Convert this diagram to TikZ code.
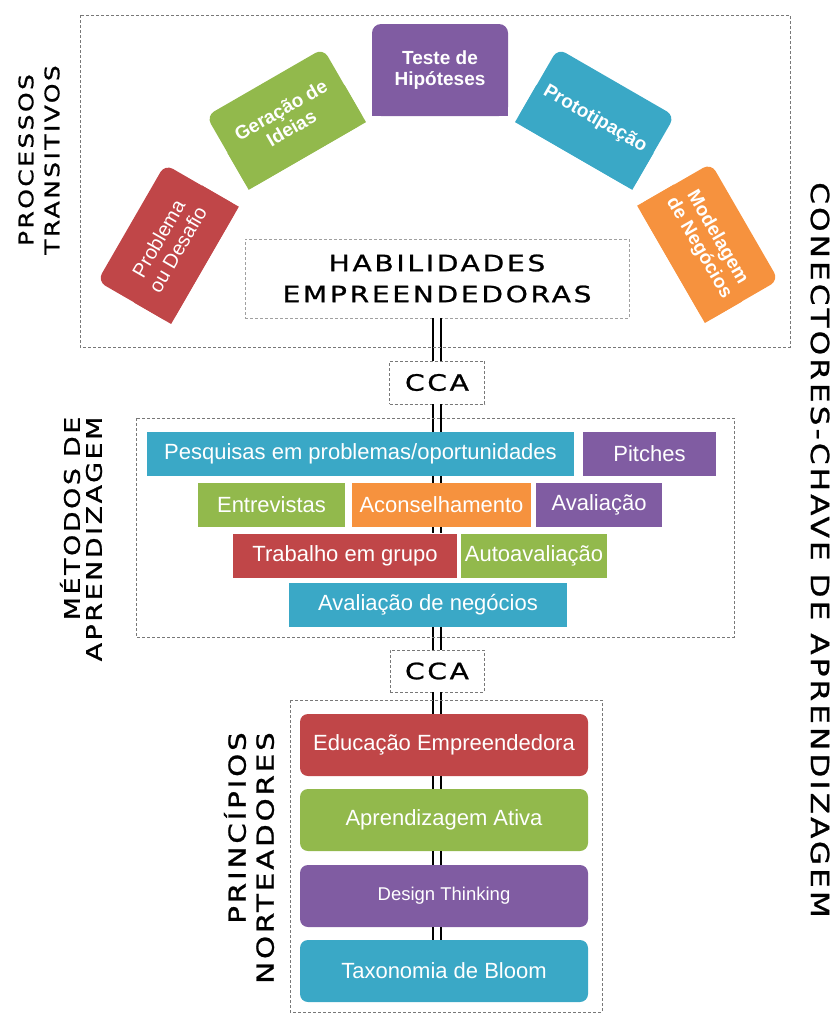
\documentclass[tikz,border=0pt]{standalone}
\usepackage{fontspec}
\setmainfont{Liberation Sans}
\newfontfamily\techfont[FakeStretch=1.25,LetterSpace=12,FakeBold=1]{DejaVu Sans}
\usetikzlibrary{backgrounds}
\definecolor{cred}{RGB}{192,70,72}
\definecolor{cgreen}{RGB}{146,185,76}
\definecolor{cpurple}{RGB}{128,92,162}
\definecolor{cblue}{RGB}{58,168,198}
\definecolor{corange}{RGB}{246,146,62}
\definecolor{dashgray}{RGB}{120,120,120}
\tikzset{
  frame/.style={draw=dashgray,dash pattern=on 3pt off 2pt,line width=0.8pt},
  tag/.style={frame,inner sep=0pt,align=center,font=\techfont\fontsize{22.5}{31}\selectfont},
  side/.style={align=#1,inner sep=0pt},
  link/.style={draw=black,line width=2.5pt,double=white,double distance=5.5pt},
  arcbox/.style={fill=#1,text=white,rounded corners=9pt,minimum width=135pt,minimum height=85pt,
    inner sep=0pt,align=center,font=\bfseries\fontsize{19}{21}\selectfont},
  meth/.style={fill=#1,text=white,inner sep=0pt,minimum height=44pt,font=\fontsize{22}{24}\selectfont},
  princ/.style={fill=#1,text=white,rounded corners=8pt,minimum width=288pt,minimum height=62pt,
    inner sep=0pt,font=\fontsize{22}{24}\selectfont}
}
\begin{document}
\begin{tikzpicture}[x=1pt,y=-1pt]
\useasboundingbox (0,0) rectangle (838,1020);

% processos transitivos
\node[arcbox=cred,rotate=60,font=\fontsize{20}{22}\selectfont] (prob) at (168,244) {Problema\\ou Desafio};
\node[arcbox=cgreen,rotate=30] (ideias) at (286,119) {Geração de\\Ideias};
\node[arcbox=cpurple,minimum width=136pt,minimum height=92pt] (teste) at (440,70) {Teste de\\Hipóteses};
\node[arcbox=cblue,rotate=-30] (proto) at (595,119) {Prototipação};
\node[arcbox=corange,rotate=-60] (model) at (708,243) {Modelagem\\de Negócios};
\begin{scope}[on background layer]
\foreach \n/\c in {prob/cred,ideias/cgreen,teste/cpurple,proto/cblue,model/corange}
  \fill[\c] (\n.west) -- (\n.south west) -- (\n.south east) -- (\n.east) -- cycle;
\end{scope}
\node[tag,draw=dashgray!70,minimum width=384pt,minimum height=79pt] (habil) at (437,278.5) {HABILIDADES\\EMPREENDEDORAS};
\node[tag,minimum width=95pt,minimum height=43pt] (cca1) at (437,382.5) {CCA};

% metodos de aprendizagem
\node[meth=cblue,minimum width=427pt] (pesq) at (360.5,454) {Pesquisas em problemas/oportunidades};
\node[meth=cpurple,minimum width=133pt] (pitch) at (649.5,454) {Pitches};
\node[meth=cgreen,minimum width=147pt] (entre) at (271.5,505) {Entrevistas};
\node[meth=corange,minimum width=179pt] (acons) at (441.5,505) {Aconselhamento};
\node[meth=cpurple,minimum width=126pt] (aval) at (599,505) {Avaliação};
\node[meth=cred,minimum width=224pt] (trab) at (345,555.5) {Trabalho em grupo};
\node[meth=cgreen,minimum width=146pt] (auto) at (534,555.5) {Autoavaliação};
\node[meth=cblue,minimum width=278pt] (neg) at (428,605) {Avaliação de negócios};
\node[tag,minimum width=94pt,minimum height=42pt] (cca2) at (437,671) {CCA};

% principios norteadores
\node[princ=cred] (edu) at (444,745) {Educação Empreendedora};
\node[princ=cgreen] (ativa) at (444,820) {Aprendizagem Ativa};
\node[princ=cpurple,font=\fontsize{18.5}{20}\selectfont] (design) at (444,896) {Design Thinking};
\node[princ=cblue] (bloom) at (444,971) {Taxonomia de Bloom};

% conectores
\draw[link] (habil.south) -- (cca1.north);
\draw[link] (cca1.south) -- (cca1.south |- pesq.north);
\draw[link] (cca1.south |- pesq.south) -- (cca1.south |- acons.north);
\draw[link] (cca1.south |- acons.south) -- (cca1.south |- trab.north);
\draw[link] (cca1.south |- neg.south) -- (cca2.north);
\draw[link] (cca2.south) -- (cca2.south |- edu.north);
\draw[link] (edu.south -| cca2.south) -- (ativa.north -| cca2.south);
\draw[link] (ativa.south -| cca2.south) -- (design.north -| cca2.south);
\draw[link] (design.south -| cca2.south) -- (bloom.north -| cca2.south);

% molduras
\draw[frame] (80,15) rectangle (790,347);
\draw[frame] (136,418) rectangle (734,637);
\draw[frame] (290,700) rectangle (602,1012);

% rotulos laterais
\node[side=center,rotate=90,font=\techfont\fontsize{20}{26}\selectfont] (proc) at (39,160) {PROCESSOS\\TRANSITIVOS};
\node[side=right,rotate=90,font=\techfont\fontsize{21.5}{22}\selectfont] (metod) at (81,539) {MÉTODOS DE\\APRENDIZAGEM};
\node[side=right,rotate=90,font=\techfont\fontsize{23.5}{28}\selectfont] (princ) at (249,858) {PRINCÍPIOS\\NORTEADORES};
\node[side=center,rotate=-90,font=\techfont\fontsize{25}{25}\selectfont] (conect) at (820,550) {CONECTORES-CHAVE DE APRENDIZAGEM};
\end{tikzpicture}
\end{document}
